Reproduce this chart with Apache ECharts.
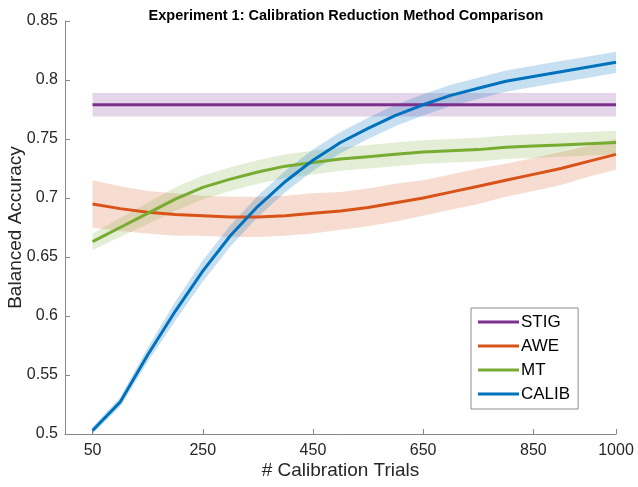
<!DOCTYPE html>
<html>
<head>
<meta charset="utf-8">
<script src="https://cdn.jsdelivr.net/npm/echarts@6/dist/echarts.min.js"></script>
<style>
html,body{margin:0;padding:0;background:#fff;}
#main{width:638px;height:487px;}
</style>
</head>
<body>
<div id="main"></div>
<script>
// ---- data ----
const trials = [50,100,150,200,250,300,350,400,450,500,550,600,650,700,750,800,850,900,950,1000];
const xTickValues = [50,250,450,650,850,1000];
const methodNames = ['STIG','AWE','MT','CALIB'];

const stigMean = [0.779,0.779,0.779,0.779,0.779,0.779,0.779,0.779,0.779,0.779,0.779,0.779,0.779,0.779,0.779,0.779,0.779,0.779,0.779,0.779];
const stigHalf = [0.010,0.010,0.010,0.010,0.010,0.010,0.010,0.010,0.010,0.010,0.010,0.010,0.010,0.010,0.010,0.010,0.010,0.010,0.010,0.010];

const aweMean = [0.695,0.691,0.688,0.686,0.685,0.684,0.684,0.685,0.687,0.689,0.692,0.696,0.700,0.705,0.710,0.715,0.720,0.725,0.731,0.737];
const aweHalf = [0.020,0.019,0.018,0.018,0.017,0.017,0.017,0.017,0.017,0.016,0.016,0.016,0.015,0.015,0.015,0.014,0.014,0.014,0.013,0.013];

const mtMean = [0.663,0.675,0.687,0.699,0.709,0.716,0.722,0.727,0.730,0.733,0.735,0.737,0.739,0.740,0.741,0.743,0.744,0.745,0.746,0.747];
const mtHalf = [0.007,0.008,0.009,0.010,0.010,0.010,0.010,0.010,0.010,0.010,0.010,0.010,0.010,0.010,0.010,0.010,0.010,0.010,0.010,0.010];

const calibMean = [0.503,0.527,0.567,0.604,0.638,0.668,0.693,0.714,0.732,0.747,0.759,0.770,0.779,0.787,0.793,0.799,0.803,0.807,0.811,0.815];
const calibHalf = [0.003,0.004,0.006,0.008,0.009,0.009,0.009,0.009,0.009,0.009,0.009,0.009,0.009,0.009,0.009,0.009,0.009,0.009,0.009,0.009];

const yMin = 0.5, yMax = 0.85, yStep = 0.05;
const xMin = 0, xMax = 1000;

// ---- styles ----
const colors = {STIG:'#7E2F8E', AWE:'#D95319', MT:'#77AC30', CALIB:'#0072BD'};
const bandAlpha = {STIG:0.2, AWE:0.2, MT:0.2, CALIB:0.22};
const FONT = '"Liberation Sans", Arial, Helvetica, sans-serif';

function hexToRgba(hex, a){
  const n = parseInt(hex.slice(1),16);
  return 'rgba(' + ((n>>16)&255) + ',' + ((n>>8)&255) + ',' + (n&255) + ',' + a + ')';
}

const methods = [
  {name:'STIG', mean:stigMean, half:stigHalf},
  {name:'AWE', mean:aweMean, half:aweHalf},
  {name:'MT', mean:mtMean, half:mtHalf},
  {name:'CALIB', mean:calibMean, half:calibHalf}
];

const series = [];
// shaded bands (custom polygons through the axis scales)
methods.forEach(m => {
  const upper = m.mean.map((v,i) => v + m.half[i]);
  const lower = m.mean.map((v,i) => v - m.half[i]);
  series.push({
    name: m.name + '_band', type:'custom', silent:true, z:1,
    data: trials.map((x,i) => [x, lower[i], upper[i]]),
    encode:{x:0, y:[1,2]},
    renderItem: function(params, api){
      if (params.dataIndex !== 0) return null;
      const pts = [];
      for (let i = 0; i < trials.length; i++) pts.push(api.coord([trials[i], upper[i]]));
      for (let i = trials.length - 1; i >= 0; i--) pts.push(api.coord([trials[i], lower[i]]));
      return {type:'polygon', shape:{points:pts},
        style:{fill: hexToRgba(colors[m.name], bandAlpha[m.name]), stroke:null}};
    }
  });
});
// mean lines
methods.forEach(m => {
  series.push({
    name: m.name, type:'line', data: trials.map((x,i)=>[x, m.mean[i]]),
    symbol:'none', showSymbol:false, z:3,
    lineStyle:{color:colors[m.name], width:3},
    itemStyle:{color:colors[m.name]}
  });
});

const chart = echarts.init(document.getElementById('main'), null, {renderer:'canvas'});
chart.setOption({
  animation:false,
  backgroundColor:'#fff',
  title:{
    text:'Experiment 1: Calibration Reduction Method Comparison',
    left:341, top:3, textAlign:'center',
    textStyle:{fontFamily:FONT, fontSize:14.5, fontWeight:'bold', color:'#000'}
  },
  grid:{left:65, right:22, top:21, bottom:53, containLabel:false, outerBoundsMode:'none'},
  legend:{
    data: methodNames,
    orient:'vertical',
    left:471, top:308,
    width:108,
    padding:[4,8,5,7],
    itemGap:4,
    itemWidth:41, itemHeight:3,
    icon:'rect',
    borderColor:'#8c8c8c', borderWidth:1, borderRadius:0,
    backgroundColor:'#fff',
    textStyle:{fontFamily:FONT, fontSize:17, color:'#000', lineHeight:20, padding:[0,0,0,-3]}
  },
  xAxis:{
    type:'value', min:xMin, max:xMax,
    name:'# Calibration Trials', nameLocation:'middle', nameGap:27, nameMoveOverlap:false,
    nameTextStyle:{fontFamily:FONT, fontSize:19, color:'#262626'},
    axisLine:{show:true, lineStyle:{color:'#888', width:1}},
    axisTick:{show:true, inside:true, length:5, customValues:xTickValues, lineStyle:{color:'#888'}},
    axisLabel:{customValues:xTickValues, fontFamily:FONT, fontSize:16, color:'#262626', margin:9,
      formatter: v => String(v)},
    splitLine:{show:false}
  },
  yAxis:{
    type:'value', min:yMin, max:yMax, interval:yStep,
    name:'Balanced Accuracy', nameLocation:'middle', nameGap:40, nameMoveOverlap:false,
    nameTextStyle:{fontFamily:FONT, fontSize:19, color:'#262626'},
    axisLine:{show:true, lineStyle:{color:'#888', width:1}},
    axisTick:{show:true, inside:true, length:5, lineStyle:{color:'#888'}},
    axisLabel:{fontFamily:FONT, fontSize:16, color:'#262626', margin:7,
      formatter: v => String(Math.round(v*100)/100)},
    splitLine:{show:false}
  },
  series: series
});
</script>
</body>
</html>
